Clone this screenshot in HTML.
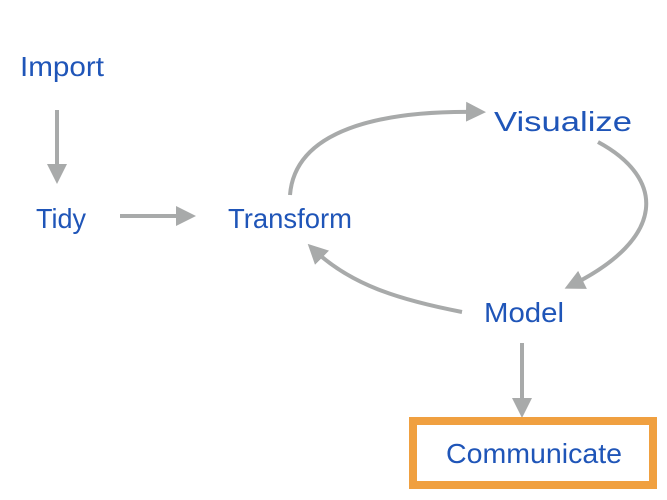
<!DOCTYPE html>
<html><head><style>
html,body{margin:0;padding:0;background:#fff;}
svg{display:block}
text{font-family:"Liberation Sans",sans-serif;fill:#1f55b8;font-size:28px;}
</style></head><body>
<svg width="667" height="500" viewBox="0 0 667 500">
<defs>
<marker id="a" viewBox="0 0 10 10" refX="7" refY="5" markerWidth="5" markerHeight="5" orient="auto" markerUnits="strokeWidth">
<path d="M0,0 L10,5 L0,10 z" fill="#a8aaaa"/>
</marker>
</defs>
<g stroke="#a8aaaa" stroke-width="4" fill="none" marker-end="url(#a)">
<line x1="57" y1="110" x2="57" y2="178"/>
<line x1="120" y1="216" x2="190" y2="216"/>
<path d="M290,195 C295,130 380,110 480,112"/>
<path d="M598,142 C665,178 668,238 570,286"/>
<path d="M462,312 C400,300 350,285 312,248"/>
<line x1="522" y1="343" x2="522" y2="412"/>
</g>
<rect x="413" y="421" width="240" height="64" fill="#fff" stroke="#f0a040" stroke-width="8"/>
<text x="20" y="76" textLength="84" lengthAdjust="spacingAndGlyphs">Import</text>
<text x="36" y="228" textLength="50" lengthAdjust="spacingAndGlyphs">Tidy</text>
<text x="228" y="228" textLength="124" lengthAdjust="spacingAndGlyphs">Transform</text>
<text x="494" y="131" textLength="138" lengthAdjust="spacingAndGlyphs">Visualize</text>
<text x="484" y="322" textLength="80" lengthAdjust="spacingAndGlyphs">Model</text>
<text x="446" y="463" textLength="176" lengthAdjust="spacingAndGlyphs">Communicate</text>
</svg>
</body></html>
